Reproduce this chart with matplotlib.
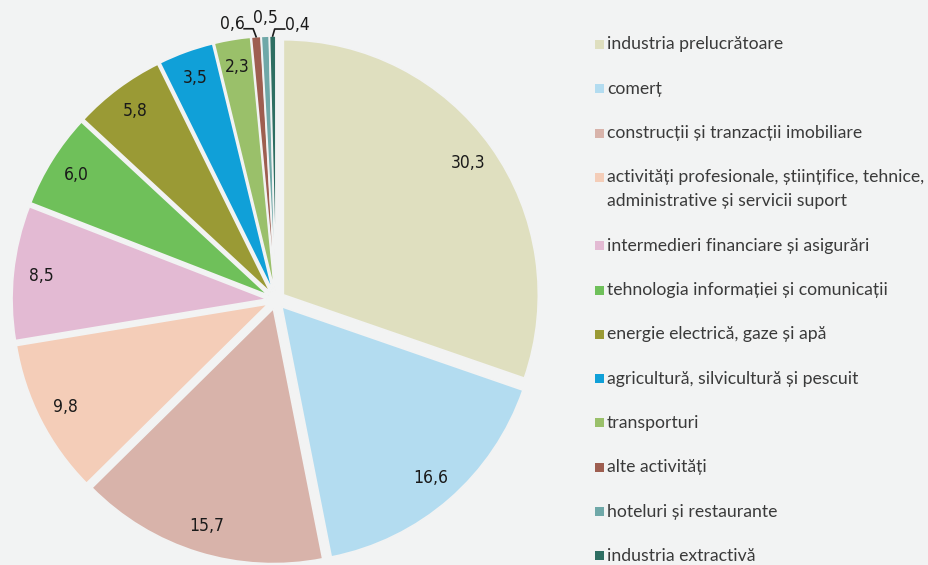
import numpy as np
import matplotlib
matplotlib.use("Agg")
import matplotlib.pyplot as plt
from matplotlib.patches import Rectangle
from matplotlib import font_manager as fm

categories = [
    "industria prelucrătoare",
    "comerț",
    "construcții și tranzacții imobiliare",
    "activități profesionale, științifice, tehnice,\nadministrative și servicii suport",
    "intermedieri financiare și asigurări",
    "tehnologia informației și comunicații",
    "energie electrică, gaze și apă",
    "agricultură, silvicultură și pescuit",
    "transporturi",
    "alte activități",
    "hoteluri și restaurante",
    "industria extractivă",
]
values = [30.3, 16.6, 15.7, 9.8, 8.5, 6.0, 5.8, 3.5, 2.3, 0.6, 0.5, 0.4]
colors = ["#dfdfbf", "#b3dcf0", "#d8b3aa", "#f4cdb8", "#e3bad3", "#6fc05a",
          "#9a9a35", "#10a0d8", "#9ac06a", "#9e5e50", "#6fa8a8", "#2e6e62"]

BG = "#f2f3f3"
TXT = "#1a1a1a"
W, H = 929, 565

# pick a narrow font for the slice labels if one is installed
fonts = fm.fontManager.ttflist
if any(f.name == "Liberation Sans Narrow" for f in fonts):
    lab_font = dict(family="Liberation Sans Narrow", fontsize=14, weight="bold")
elif any("Condensed" in f.fname and "DejaVuSans" in f.fname for f in fonts):
    lab_font = dict(family="DejaVu Sans", stretch="condensed", fontsize=12.5)
else:
    lab_font = dict(family="Lato", fontsize=12.5, weight="semibold")
lab_font["color"] = TXT

fig = plt.figure(figsize=(W / 100, H / 100), dpi=100, facecolor=BG)
ax = fig.add_axes([0, 0, 1, 1])
ax.set_facecolor(BG)

cx, cy, R = 276, 265, 255
wedges, _ = ax.pie(values, colors=colors, startangle=90, counterclock=False,
                   center=(cx, cy), radius=R, explode=[9] * len(values),
                   wedgeprops=dict(linewidth=1.2, edgecolor=BG))
ax.set_xlim(0, W)
ax.set_ylim(0, H)
ax.set_aspect("equal")
ax.axis("off")


def fmt(v):
    return f"{v:.1f}".replace(".", ",")

for w, v in zip(wedges, values):
    th = np.deg2rad((w.theta1 + w.theta2) / 2)
    x0, y0 = w.center
    if v >= 1:
        ax.text(x0 + 0.89 * R * np.cos(th), y0 + 0.89 * R * np.sin(th), fmt(v),
                ha="center", va="center", **lab_font)

# small slices with outside labels
small = [(i, v) for i, v in enumerate(values) if v < 1]
for k, (i, v) in enumerate(small):
    w = wedges[i]
    th = np.deg2rad((w.theta1 + w.theta2) / 2)
    x0, y0 = w.center
    tx, ty = x0 + R * np.cos(th), y0 + R * np.sin(th)
    if k == 0:
        ax.plot([tx, tx - 3, tx - 12], [ty, ty + 8, ty + 8], color=TXT, lw=1.2)
        ax.text(tx - 24, ty + 13, fmt(v), ha="center", va="center", **lab_font)
    elif k == 1:
        ax.text(tx, ty + 18, fmt(v), ha="center", va="center", **lab_font)
    else:
        ax.plot([tx, tx + 2, tx + 12], [ty, ty + 7, ty + 7], color=TXT, lw=1.2)
        ax.text(tx + 25, ty + 11, fmt(v), ha="center", va="center", **lab_font)

# legend
leg_font = dict(family=["Lato", "DejaVu Sans"], fontsize=12.7, color="#3a3a3a")
y = H - 44.5
for cat, col in zip(categories, colors):
    ax.add_patch(Rectangle((595, y - 4.5), 9, 9, facecolor=col, edgecolor="none"))
    lines = cat.split("\n")
    for j, line in enumerate(lines):
        ax.text(607, y - 5 - 24 * j, line, ha="left", va="baseline", **leg_font)
    y -= 44.3 + 24 * (len(lines) - 1)

fig.savefig("out.png", dpi=100, facecolor=BG)
